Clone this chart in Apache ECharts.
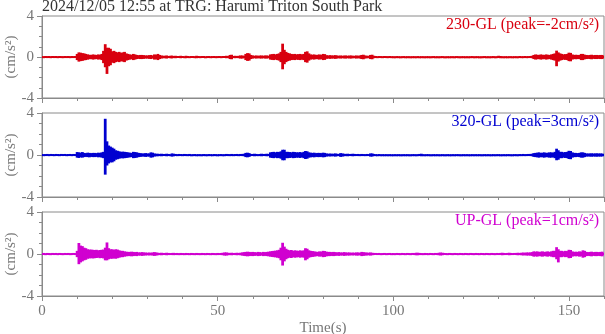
<!DOCTYPE html>
<html>
<head>
<meta charset="utf-8">
<script src="https://cdn.jsdelivr.net/npm/echarts@6/dist/echarts.min.js"></script>
<style>
  html, body { margin: 0; padding: 0; background: #fff; }
  #chart { width: 605px; height: 334px; }
</style>
</head>
<body>
<div id="chart"></div>
<script>
// 采样间隔 (s): 每 0.5 s 读一次波形的上下包络
var dt = 0.5;

// 230-GL 上包络 / 下包络 (cm/s^2)
var hi230 = [
  0.1,0.08,0.1,0.09,0.1,0.08,0.1,0.09,0.1,0.08,
  0.1,0.09,0.08,0.1,0.09,0.1,0.08,0.1,0.09,0.1,
  0.3,0.45,0.42,0.38,0.35,0.3,0.25,0.22,0.2,0.25,
  0.22,0.2,0.25,0.22,0.3,0.6,1.25,0.9,0.9,0.8,
  0.55,0.6,0.5,0.45,0.5,0.4,0.45,0.5,0.35,0.3,
  0.25,0.22,0.3,0.25,0.2,0.18,0.2,0.2,0.18,0.15,
  0.15,0.18,0.2,0.15,0.25,0.22,0.3,0.2,0.15,0.12,
  0.12,0.15,0.1,0.12,0.14,0.1,0.12,0.1,0.1,0.12,
  0.1,0.08,0.12,0.1,0.08,0.1,0.1,0.08,0.12,0.1,
  0.08,0.1,0.1,0.07,0.09,0.1,0.08,0.09,0.1,0.08,
  0.09,0.1,0.08,0.1,0.1,0.12,0.1,0.2,0.22,0.1,
  0.12,0.1,0.12,0.15,0.15,0.12,0.3,0.38,0.35,0.2,
  0.15,0.12,0.15,0.12,0.14,0.15,0.12,0.15,0.15,0.12,
  0.25,0.28,0.3,0.25,0.3,0.35,0.5,1.3,0.7,0.5,
  0.4,0.35,0.3,0.28,0.3,0.25,0.28,0.3,0.25,0.3,
  0.5,0.55,0.35,0.25,0.22,0.25,0.2,0.22,0.25,0.2,
  0.3,0.28,0.18,0.15,0.18,0.15,0.15,0.18,0.15,0.12,
  0.15,0.12,0.14,0.15,0.12,0.14,0.15,0.12,0.12,0.15,
  0.12,0.15,0.2,0.22,0.15,0.12,0.12,0.2,0.22,0.12,
  0.1,0.08,0.1,0.09,0.08,0.1,0.09,0.08,0.1,0.08,
  0.08,0.07,0.09,0.08,0.07,0.08,0.09,0.07,0.08,0.08,
  0.07,0.08,0.08,0.07,0.09,0.07,0.08,0.08,0.07,0.08,
  0.08,0.07,0.08,0.09,0.07,0.08,0.07,0.08,0.09,0.07,
  0.07,0.08,0.07,0.08,0.08,0.07,0.09,0.08,0.07,0.08,
  0.08,0.07,0.08,0.07,0.08,0.09,0.07,0.08,0.08,0.07,
  0.07,0.08,0.09,0.07,0.08,0.07,0.08,0.09,0.07,0.08,
  0.12,0.1,0.08,0.07,0.08,0.07,0.08,0.08,0.07,0.08,
  0.08,0.07,0.1,0.08,0.08,0.1,0.08,0.09,0.1,0.12,
  0.2,0.25,0.22,0.2,0.25,0.22,0.2,0.25,0.22,0.2,
  0.25,0.3,0.35,0.62,0.45,0.35,0.3,0.25,0.28,0.3,
  0.42,0.4,0.25,0.2,0.22,0.2,0.2,0.3,0.3,0.22,
  0.2,0.18,0.2,0.22,0.18,0.2,0.2,0.18,0.2,0.2,
  0.1
];
var lo230 = [
  -0.09,-0.1,-0.08,-0.1,-0.09,-0.1,-0.08,-0.1,-0.09,-0.1,
  -0.08,-0.1,-0.09,-0.1,-0.08,-0.09,-0.1,-0.09,-0.1,-0.08,
  -0.3,-0.45,-0.4,-0.38,-0.32,-0.3,-0.25,-0.22,-0.2,-0.25,
  -0.22,-0.2,-0.25,-0.22,-0.3,-0.6,-1.0,-1.65,-0.9,-0.8,
  -0.55,-0.6,-0.5,-0.45,-0.5,-0.4,-0.45,-0.5,-0.35,-0.3,
  -0.25,-0.22,-0.3,-0.25,-0.2,-0.18,-0.2,-0.2,-0.18,-0.15,
  -0.15,-0.18,-0.2,-0.15,-0.25,-0.22,-0.3,-0.2,-0.15,-0.12,
  -0.12,-0.15,-0.1,-0.12,-0.14,-0.1,-0.12,-0.1,-0.1,-0.12,
  -0.1,-0.08,-0.12,-0.1,-0.08,-0.1,-0.1,-0.08,-0.12,-0.1,
  -0.08,-0.1,-0.1,-0.07,-0.09,-0.1,-0.08,-0.09,-0.1,-0.08,
  -0.09,-0.1,-0.08,-0.1,-0.1,-0.12,-0.1,-0.2,-0.22,-0.1,
  -0.12,-0.1,-0.12,-0.15,-0.15,-0.12,-0.3,-0.38,-0.35,-0.2,
  -0.15,-0.12,-0.15,-0.12,-0.14,-0.15,-0.12,-0.15,-0.15,-0.12,
  -0.25,-0.28,-0.3,-0.25,-0.3,-0.35,-0.5,-1.2,-0.7,-0.5,
  -0.4,-0.35,-0.3,-0.28,-0.3,-0.25,-0.28,-0.3,-0.25,-0.3,
  -0.5,-0.55,-0.35,-0.25,-0.22,-0.25,-0.2,-0.22,-0.25,-0.2,
  -0.3,-0.28,-0.18,-0.15,-0.18,-0.15,-0.15,-0.18,-0.15,-0.12,
  -0.15,-0.12,-0.14,-0.15,-0.12,-0.14,-0.15,-0.12,-0.12,-0.15,
  -0.12,-0.15,-0.2,-0.22,-0.15,-0.12,-0.12,-0.2,-0.22,-0.12,
  -0.1,-0.08,-0.1,-0.09,-0.08,-0.1,-0.09,-0.08,-0.1,-0.08,
  -0.07,-0.08,-0.08,-0.07,-0.09,-0.07,-0.08,-0.08,-0.07,-0.08,
  -0.08,-0.07,-0.08,-0.09,-0.07,-0.08,-0.07,-0.08,-0.09,-0.07,
  -0.07,-0.08,-0.07,-0.08,-0.08,-0.07,-0.09,-0.08,-0.07,-0.08,
  -0.08,-0.07,-0.08,-0.07,-0.08,-0.09,-0.07,-0.08,-0.08,-0.07,
  -0.07,-0.08,-0.09,-0.07,-0.08,-0.07,-0.08,-0.09,-0.07,-0.08,
  -0.08,-0.07,-0.08,-0.08,-0.07,-0.08,-0.09,-0.07,-0.08,-0.08,
  -0.1,-0.12,-0.08,-0.07,-0.08,-0.07,-0.08,-0.08,-0.07,-0.08,
  -0.07,-0.08,-0.1,-0.08,-0.08,-0.1,-0.08,-0.09,-0.1,-0.12,
  -0.2,-0.25,-0.22,-0.2,-0.25,-0.22,-0.2,-0.25,-0.22,-0.2,
  -0.25,-0.3,-0.35,-0.9,-0.45,-0.35,-0.3,-0.25,-0.28,-0.3,
  -0.4,-0.42,-0.25,-0.2,-0.22,-0.2,-0.2,-0.3,-0.3,-0.22,
  -0.2,-0.18,-0.2,-0.22,-0.18,-0.2,-0.2,-0.18,-0.2,-0.2,
  -0.1
];

// 320-GL
var hi320 = [
  0.1,0.08,0.09,0.1,0.08,0.1,0.09,0.08,0.1,0.09,
  0.08,0.1,0.09,0.1,0.08,0.09,0.1,0.08,0.1,0.09,
  0.28,0.25,0.22,0.28,0.2,0.18,0.22,0.2,0.18,0.2,
  0.2,0.18,0.22,0.2,0.25,0.3,3.45,1.3,0.9,0.8,
  0.7,0.6,0.45,0.4,0.35,0.3,0.32,0.3,0.28,0.25,
  0.22,0.2,0.3,0.28,0.25,0.2,0.18,0.15,0.15,0.18,
  0.15,0.15,0.25,0.22,0.15,0.12,0.12,0.1,0.12,0.1,
  0.1,0.12,0.1,0.08,0.15,0.12,0.1,0.08,0.1,0.09,
  0.08,0.1,0.09,0.08,0.1,0.07,0.08,0.09,0.07,0.08,
  0.08,0.07,0.09,0.08,0.07,0.09,0.08,0.07,0.09,0.08,
  0.07,0.08,0.09,0.07,0.08,0.1,0.09,0.08,0.1,0.08,
  0.09,0.1,0.08,0.1,0.1,0.12,0.2,0.22,0.18,0.1,
  0.1,0.12,0.1,0.08,0.1,0.12,0.1,0.1,0.12,0.1,
  0.25,0.28,0.3,0.25,0.3,0.28,0.35,0.5,0.5,0.3,
  0.3,0.28,0.25,0.3,0.28,0.25,0.25,0.28,0.22,0.3,
  0.38,0.35,0.25,0.22,0.2,0.22,0.18,0.2,0.2,0.18,
  0.22,0.2,0.15,0.12,0.14,0.12,0.12,0.15,0.12,0.1,
  0.18,0.15,0.12,0.1,0.12,0.1,0.1,0.12,0.1,0.09,
  0.1,0.08,0.1,0.09,0.08,0.1,0.09,0.15,0.15,0.1,
  0.08,0.07,0.09,0.07,0.08,0.07,0.08,0.07,0.08,0.07,
  0.07,0.08,0.07,0.08,0.07,0.07,0.08,0.07,0.08,0.07,
  0.07,0.08,0.08,0.07,0.08,0.1,0.12,0.08,0.07,0.08,
  0.08,0.07,0.07,0.08,0.07,0.08,0.07,0.07,0.08,0.07,
  0.07,0.08,0.07,0.07,0.08,0.07,0.08,0.08,0.07,0.07,
  0.08,0.07,0.08,0.07,0.07,0.08,0.07,0.08,0.07,0.08,
  0.07,0.07,0.08,0.07,0.08,0.07,0.07,0.08,0.07,0.08,
  0.08,0.07,0.07,0.08,0.07,0.08,0.08,0.07,0.07,0.08,
  0.08,0.07,0.09,0.08,0.1,0.08,0.09,0.1,0.1,0.12,
  0.18,0.2,0.22,0.25,0.2,0.22,0.25,0.2,0.22,0.25,
  0.25,0.22,0.3,0.6,0.45,0.3,0.3,0.25,0.28,0.3,
  0.4,0.38,0.25,0.2,0.2,0.18,0.2,0.25,0.25,0.2,
  0.15,0.14,0.15,0.16,0.14,0.15,0.16,0.14,0.15,0.14,
  0.1
];
var lo320 = [
  -0.09,-0.1,-0.08,-0.09,-0.1,-0.08,-0.1,-0.09,-0.08,-0.1,
  -0.09,-0.08,-0.1,-0.09,-0.1,-0.08,-0.09,-0.1,-0.08,-0.1,
  -0.25,-0.28,-0.22,-0.25,-0.2,-0.18,-0.2,-0.22,-0.18,-0.2,
  -0.2,-0.18,-0.22,-0.2,-0.25,-0.3,-1.87,-1.0,-0.8,-0.7,
  -0.7,-0.6,-0.45,-0.4,-0.35,-0.3,-0.32,-0.3,-0.28,-0.25,
  -0.22,-0.2,-0.3,-0.28,-0.25,-0.2,-0.18,-0.15,-0.15,-0.18,
  -0.15,-0.15,-0.25,-0.22,-0.15,-0.12,-0.12,-0.1,-0.12,-0.1,
  -0.1,-0.12,-0.1,-0.08,-0.15,-0.12,-0.1,-0.08,-0.1,-0.09,
  -0.08,-0.1,-0.09,-0.08,-0.1,-0.07,-0.08,-0.09,-0.07,-0.08,
  -0.08,-0.07,-0.09,-0.08,-0.07,-0.09,-0.08,-0.07,-0.09,-0.08,
  -0.07,-0.08,-0.09,-0.07,-0.08,-0.1,-0.09,-0.08,-0.1,-0.08,
  -0.09,-0.1,-0.08,-0.1,-0.1,-0.12,-0.2,-0.22,-0.18,-0.1,
  -0.1,-0.12,-0.1,-0.08,-0.1,-0.12,-0.1,-0.1,-0.12,-0.1,
  -0.25,-0.28,-0.3,-0.25,-0.3,-0.28,-0.35,-0.5,-0.5,-0.3,
  -0.3,-0.28,-0.25,-0.3,-0.28,-0.25,-0.25,-0.28,-0.22,-0.3,
  -0.38,-0.35,-0.25,-0.22,-0.2,-0.22,-0.18,-0.2,-0.2,-0.18,
  -0.22,-0.2,-0.15,-0.12,-0.14,-0.12,-0.12,-0.15,-0.12,-0.1,
  -0.18,-0.15,-0.12,-0.1,-0.12,-0.1,-0.1,-0.12,-0.1,-0.09,
  -0.1,-0.08,-0.1,-0.09,-0.08,-0.1,-0.09,-0.15,-0.15,-0.1,
  -0.07,-0.08,-0.07,-0.09,-0.07,-0.08,-0.07,-0.08,-0.07,-0.08,
  -0.08,-0.07,-0.08,-0.07,-0.07,-0.08,-0.07,-0.08,-0.07,-0.08,
  -0.08,-0.07,-0.07,-0.08,-0.08,-0.1,-0.12,-0.08,-0.07,-0.08,
  -0.07,-0.08,-0.07,-0.07,-0.08,-0.07,-0.08,-0.07,-0.08,-0.07,
  -0.08,-0.07,-0.08,-0.07,-0.07,-0.08,-0.07,-0.07,-0.08,-0.08,
  -0.07,-0.08,-0.07,-0.08,-0.08,-0.07,-0.08,-0.07,-0.08,-0.07,
  -0.08,-0.08,-0.07,-0.08,-0.07,-0.08,-0.08,-0.07,-0.08,-0.07,
  -0.07,-0.08,-0.08,-0.07,-0.08,-0.07,-0.07,-0.08,-0.08,-0.07,
  -0.07,-0.08,-0.09,-0.08,-0.1,-0.08,-0.09,-0.1,-0.1,-0.12,
  -0.18,-0.2,-0.22,-0.25,-0.2,-0.22,-0.25,-0.2,-0.22,-0.25,
  -0.25,-0.22,-0.3,-0.5,-0.45,-0.3,-0.3,-0.25,-0.28,-0.3,
  -0.38,-0.4,-0.25,-0.2,-0.2,-0.18,-0.2,-0.25,-0.25,-0.2,
  -0.15,-0.14,-0.15,-0.16,-0.14,-0.15,-0.16,-0.14,-0.15,-0.14,
  -0.1
];

// UP-GL
var hiUP = [
  0.09,0.1,0.08,0.1,0.09,0.08,0.1,0.09,0.1,0.08,
  0.1,0.09,0.08,0.1,0.09,0.1,0.08,0.09,0.1,0.09,
  0.3,1.05,0.8,0.75,0.6,0.55,0.45,0.42,0.42,0.4,
  0.38,0.4,0.35,0.38,0.4,0.42,0.6,1.1,0.55,0.45,
  0.45,0.4,0.45,0.42,0.35,0.3,0.3,0.25,0.22,0.2,
  0.2,0.22,0.2,0.18,0.2,0.15,0.15,0.18,0.15,0.14,
  0.12,0.14,0.12,0.15,0.18,0.15,0.12,0.1,0.12,0.1,
  0.1,0.12,0.1,0.09,0.1,0.11,0.09,0.1,0.08,0.1,
  0.09,0.08,0.1,0.09,0.08,0.1,0.09,0.08,0.1,0.09,
  0.08,0.1,0.09,0.08,0.1,0.09,0.08,0.1,0.09,0.08,
  0.1,0.09,0.1,0.12,0.15,0.15,0.12,0.1,0.12,0.1,
  0.1,0.12,0.1,0.12,0.15,0.18,0.2,0.22,0.2,0.18,
  0.2,0.18,0.15,0.2,0.18,0.15,0.2,0.18,0.2,0.22,
  0.25,0.28,0.3,0.32,0.35,0.4,0.6,1.07,0.7,0.5,
  0.4,0.35,0.38,0.3,0.35,0.32,0.3,0.35,0.3,0.35,
  0.55,0.5,0.35,0.3,0.28,0.25,0.22,0.2,0.25,0.22,
  0.3,0.28,0.22,0.2,0.2,0.18,0.2,0.18,0.15,0.18,
  0.15,0.14,0.18,0.15,0.14,0.15,0.12,0.14,0.12,0.15,
  0.15,0.12,0.2,0.18,0.15,0.14,0.12,0.15,0.12,0.1,
  0.1,0.09,0.1,0.08,0.09,0.1,0.08,0.09,0.1,0.08,
  0.09,0.08,0.1,0.09,0.08,0.1,0.09,0.08,0.1,0.09,
  0.08,0.1,0.09,0.12,0.12,0.1,0.09,0.08,0.1,0.09,
  0.08,0.1,0.09,0.08,0.1,0.09,0.12,0.14,0.12,0.1,
  0.09,0.08,0.1,0.09,0.08,0.1,0.09,0.08,0.1,0.09,
  0.08,0.1,0.09,0.08,0.1,0.09,0.08,0.1,0.09,0.08,
  0.1,0.09,0.08,0.1,0.09,0.08,0.1,0.09,0.08,0.1,
  0.09,0.1,0.12,0.1,0.09,0.1,0.12,0.1,0.09,0.1,
  0.1,0.12,0.1,0.12,0.14,0.12,0.15,0.14,0.15,0.18,
  0.25,0.22,0.25,0.2,0.22,0.25,0.2,0.22,0.25,0.2,
  0.25,0.3,0.3,0.65,0.45,0.3,0.3,0.25,0.3,0.28,
  0.4,0.38,0.25,0.2,0.22,0.2,0.25,0.22,0.35,0.3,
  0.2,0.18,0.2,0.22,0.18,0.2,0.2,0.18,0.2,0.22,
  0.1
];
var loUP = [
  -0.1,-0.09,-0.1,-0.08,-0.1,-0.09,-0.08,-0.1,-0.09,-0.1,
  -0.08,-0.1,-0.09,-0.08,-0.1,-0.09,-0.1,-0.08,-0.09,-0.1,
  -0.3,-0.97,-0.8,-0.7,-0.6,-0.55,-0.45,-0.42,-0.4,-0.42,
  -0.4,-0.38,-0.35,-0.4,-0.38,-0.42,-0.6,-0.6,-0.5,-0.45,
  -0.45,-0.42,-0.45,-0.4,-0.35,-0.3,-0.3,-0.25,-0.22,-0.2,
  -0.2,-0.22,-0.2,-0.18,-0.2,-0.15,-0.15,-0.18,-0.15,-0.14,
  -0.12,-0.14,-0.12,-0.15,-0.18,-0.15,-0.12,-0.1,-0.12,-0.1,
  -0.1,-0.12,-0.1,-0.09,-0.1,-0.11,-0.09,-0.1,-0.08,-0.1,
  -0.08,-0.09,-0.1,-0.08,-0.09,-0.1,-0.08,-0.09,-0.1,-0.08,
  -0.09,-0.1,-0.08,-0.09,-0.1,-0.08,-0.09,-0.1,-0.08,-0.09,
  -0.1,-0.09,-0.1,-0.12,-0.15,-0.15,-0.12,-0.1,-0.12,-0.1,
  -0.1,-0.12,-0.1,-0.12,-0.15,-0.18,-0.2,-0.22,-0.2,-0.18,
  -0.2,-0.18,-0.15,-0.2,-0.18,-0.15,-0.2,-0.18,-0.2,-0.22,
  -0.25,-0.28,-0.3,-0.32,-0.35,-0.4,-0.6,-1.1,-0.7,-0.5,
  -0.4,-0.35,-0.38,-0.3,-0.35,-0.32,-0.3,-0.35,-0.3,-0.35,
  -0.6,-0.5,-0.35,-0.3,-0.28,-0.25,-0.22,-0.2,-0.25,-0.22,
  -0.3,-0.28,-0.22,-0.2,-0.2,-0.18,-0.2,-0.18,-0.15,-0.18,
  -0.15,-0.14,-0.18,-0.15,-0.14,-0.15,-0.12,-0.14,-0.12,-0.15,
  -0.15,-0.12,-0.2,-0.18,-0.15,-0.14,-0.12,-0.15,-0.12,-0.1,
  -0.08,-0.1,-0.09,-0.1,-0.08,-0.09,-0.1,-0.08,-0.09,-0.1,
  -0.1,-0.09,-0.08,-0.1,-0.09,-0.08,-0.1,-0.09,-0.08,-0.1,
  -0.09,-0.08,-0.1,-0.12,-0.12,-0.1,-0.08,-0.09,-0.1,-0.08,
  -0.1,-0.08,-0.09,-0.1,-0.08,-0.1,-0.12,-0.14,-0.12,-0.09,
  -0.08,-0.1,-0.09,-0.08,-0.1,-0.09,-0.08,-0.1,-0.09,-0.08,
  -0.1,-0.09,-0.08,-0.1,-0.09,-0.08,-0.1,-0.09,-0.08,-0.1,
  -0.09,-0.08,-0.1,-0.09,-0.08,-0.1,-0.09,-0.08,-0.1,-0.09,
  -0.1,-0.09,-0.12,-0.1,-0.1,-0.09,-0.12,-0.1,-0.1,-0.09,
  -0.1,-0.12,-0.1,-0.12,-0.14,-0.12,-0.15,-0.14,-0.15,-0.18,
  -0.25,-0.22,-0.25,-0.2,-0.22,-0.25,-0.2,-0.22,-0.25,-0.2,
  -0.25,-0.3,-0.3,-0.5,-0.8,-0.3,-0.3,-0.25,-0.3,-0.28,
  -0.4,-0.38,-0.25,-0.2,-0.22,-0.2,-0.25,-0.22,-0.35,-0.3,
  -0.2,-0.18,-0.2,-0.22,-0.18,-0.2,-0.2,-0.18,-0.2,-0.22,
  -0.1
];

var names = ['230-GL (peak=-2cm/s²)', '320-GL (peak=3cm/s²)', 'UP-GL (peak=1cm/s²)'];
var colors = ['#d8000f', '#0000d0', '#d000d0'];
var yTicks = [-4, 0, 4];
var xTicks = [0, 50, 100, 150];

var font = '"Liberation Serif", "DejaVu Serif", serif';
var axisColor = '#8a8a8a';
var labelColor = '#777';
var tops = [16, 113, 212];
var heights = [82, 84, 84];

var his = [hi230, hi320, hiUP];
var los = [lo230, lo320, loUP];

function toItems(hi, lo) {
    return hi.map(function (v, i) { return [i * dt, lo[i], v]; });
}

var chart = echarts.init(document.getElementById('chart'));

var grids = [], xAxes = [], yAxes = [], series = [], graphics = [];
his.forEach(function (hi, k) {
    var last = k === his.length - 1;
    grids.push({
        left: 42, right: 1, top: tops[k], height: heights[k],
        outerBoundsMode: 'none', containLabel: false,
        show: true, borderColor: axisColor, borderWidth: 1
    });
    // 次刻度 (每 10 s)
    xAxes.push({
        type: 'value', gridIndex: k, min: 0, max: 160, interval: 10,
        position: 'bottom',
        axisLine: { show: true, onZero: false, lineStyle: { color: axisColor } },
        axisTick: { show: true, length: 3, lineStyle: { color: axisColor } },
        axisLabel: { show: false },
        splitLine: { show: false }
    });
    // 主刻度 (每 50 s)
    xAxes.push({
        type: 'value', gridIndex: k, min: xTicks[0], max: 160, interval: xTicks[1] - xTicks[0],
        position: 'bottom',
        name: last ? 'Time(s)' : '',
        nameLocation: 'middle', nameGap: 25, nameMoveOverlap: false,
        nameTextStyle: { fontFamily: font, fontSize: 15, color: labelColor },
        axisLine: { show: false, onZero: false },
        axisTick: { show: true, length: 5, lineStyle: { color: axisColor } },
        axisLabel: {
            show: last, showMaxLabel: false, margin: 8,
            fontFamily: font, fontSize: 15, color: labelColor
        },
        splitLine: { show: false }
    });
    yAxes.push({
        type: 'value', gridIndex: k, min: yTicks[0], max: yTicks[2], interval: yTicks[1] - yTicks[0],
        name: '(cm/s²)', nameLocation: 'middle', nameRotate: 90, nameGap: 23,
        nameMoveOverlap: false,
        nameTextStyle: { fontFamily: font, fontSize: 15, color: labelColor },
        axisLine: { show: true, lineStyle: { color: axisColor } },
        axisTick: { show: true, length: 5, lineStyle: { color: axisColor } },
        minorTick: { show: true, splitNumber: 4, length: 3, lineStyle: { color: axisColor } },
        axisLabel: { fontFamily: font, fontSize: 15, color: labelColor, margin: 8 },
        splitLine: { show: false }
    });
    series.push({
        type: 'custom', xAxisIndex: 2 * k, yAxisIndex: k,
        clip: true,
        data: toItems(hi, los[k]),
        renderItem: (function (color) {
            return function (params, api) {
                var t = api.value(0);
                var top = api.coord([t, api.value(2)]);
                var bot = api.coord([t, api.value(1)]);
                var w = api.size([dt, 0])[0];
                var h = Math.max(bot[1] - top[1], 2);
                return {
                    type: 'rect',
                    shape: { x: top[0] - w / 2 - 0.5, y: top[1], width: w + 1, height: h },
                    style: { fill: color }
                };
            };
        })(colors[k])
    });
    graphics.push({
        type: 'text', right: 6, top: tops[k] + 1,
        style: { text: names[k], fill: colors[k], font: '16px ' + font }
    });
});

graphics.push({
    type: 'text', left: 42, top: -1,
    style: { text: '2024/12/05 12:55 at TRG: Harumi Triton South Park', fill: '#333', font: '16px ' + font }
});

var option = {
    animation: false,
    backgroundColor: '#fff',
    grid: grids,
    xAxis: xAxes,
    yAxis: yAxes,
    series: series,
    graphic: graphics
};

chart.setOption(option);

window.addEventListener('resize', function () {
    chart.resize();
});
</script>
</body>
</html>
